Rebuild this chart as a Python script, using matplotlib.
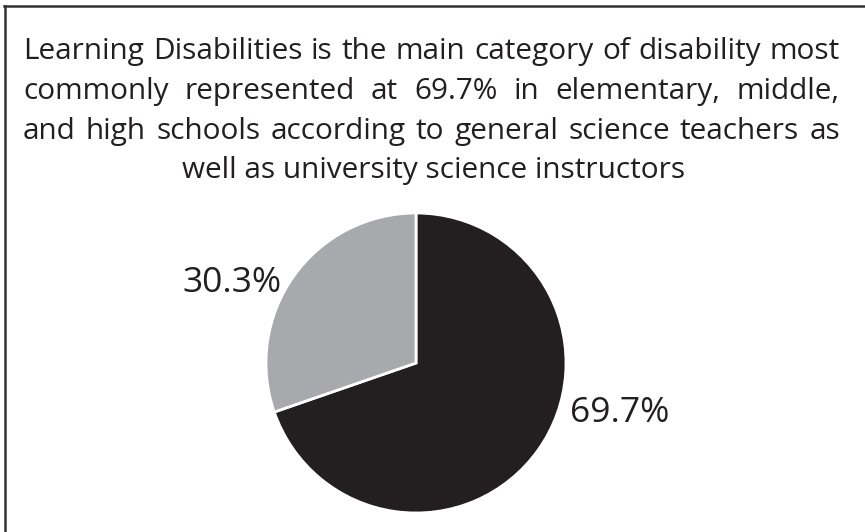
import matplotlib
matplotlib.use("Agg")
import matplotlib.pyplot as plt
from matplotlib.lines import Line2D

W, H = 865, 532
DPI = 100

categories = ["Learning Disabilities", "Other"]
values = [69.7, 30.3]
colors = ["#231f20", "#a7a9ac"]
label_texts = ["69.7%", "30.3%"]

title_lines = [
    "Learning Disabilities is the main category of disability most",
    "commonly represented at 69.7% in elementary, middle,",
    "and high schools according to general science teachers as",
    "well as university science instructors",
]

FONT = "Open Sans"
plt.rcParams["font.family"] = [FONT, "DejaVu Sans"]

fig = plt.figure(figsize=(W / DPI, H / DPI), dpi=DPI)
fig.patch.set_facecolor("white")

def fx(px):
    return px / W

def fy(py):
    return 1 - py / H

# border (top and left visible)
fig.add_artist(Line2D([fx(4), fx(W)], [fy(6), fy(6)], color="#333333", lw=1.8,
                      transform=fig.transFigure))
fig.add_artist(Line2D([fx(5), fx(5)], [fy(6), fy(H)], color="#333333", lw=1.8,
                      transform=fig.transFigure))

# title, justified
fs = 21.4
left, right = 23, 840
baselines = [59, 99, 139, 178]
renderer = fig.canvas.get_renderer()
tc = "#231f20"
for i, (line, by) in enumerate(zip(title_lines, baselines)):
    if i == len(title_lines) - 1:
        fig.text(fx((left + right) / 2 + 2), fy(by), line, fontsize=fs, color=tc,
                 ha="center", va="baseline")
        continue
    words = line.split(" ")
    ts = [fig.text(0, fy(by), w, fontsize=fs, color=tc, ha="left", va="baseline")
          for w in words]
    widths = [t.get_window_extent(renderer).width for t in ts]
    gap = (right - left - sum(widths)) / (len(words) - 1)
    x = left
    for t, w in zip(ts, widths):
        t.set_x(fx(x))
        x += w + gap

# pie
cx, cy, r = 416, 363, 150
ax = fig.add_axes([fx(cx - r), (H - cy - r) / H, 2 * r / W, 2 * r / H])
ax.pie(values, colors=colors, startangle=90, counterclock=False,
       wedgeprops=dict(edgecolor="white", linewidth=2))
ax.set_xlim(-1, 1)
ax.set_ylim(-1, 1)
ax.set_aspect("auto")
ax.axis("off")

label_pos = [(1.36, -0.33), (-1.227, 0.53)]
for txt, (lx, ly) in zip(label_texts, label_pos):
    ax.text(lx, ly, txt, fontsize=25.5, color=tc, ha="center", va="center",
            clip_on=False)

fig.savefig("out.png", dpi=DPI, facecolor="white")
